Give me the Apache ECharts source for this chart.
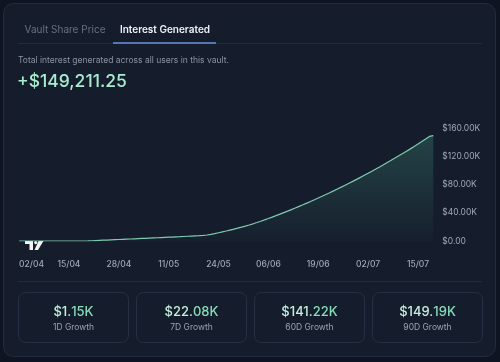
<!DOCTYPE html>
<html>
<head>
<meta charset="utf-8">
<script src="https://cdn.jsdelivr.net/npm/echarts@6/dist/echarts.min.js"></script>
<style>
html,body{margin:0;padding:0;background:#0e1421;}
#c{width:500px;height:362px;}
</style>
</head>
<body>
<div id="c"></div>
<script>
// Daily categories (dd/mm)
const dates = [
"02/04","03/04","04/04","05/04","06/04","07/04","08/04","09/04","10/04","11/04","12/04","13/04","14/04","15/04","16/04","17/04","18/04","19/04","20/04","21/04","22/04","23/04","24/04","25/04","26/04","27/04","28/04","29/04","30/04",
"01/05","02/05","03/05","04/05","05/05","06/05","07/05","08/05","09/05","10/05","11/05","12/05","13/05","14/05","15/05","16/05","17/05","18/05","19/05","20/05","21/05","22/05","23/05","24/05","25/05","26/05","27/05","28/05","29/05","30/05","31/05",
"01/06","02/06","03/06","04/06","05/06","06/06","07/06","08/06","09/06","10/06","11/06","12/06","13/06","14/06","15/06","16/06","17/06","18/06","19/06","20/06","21/06","22/06","23/06","24/06","25/06","26/06","27/06","28/06","29/06","30/06",
"01/07","02/07","03/07","04/07","05/07","06/07","07/07","08/07","09/07","10/07","11/07","12/07","13/07","14/07","15/07","16/07","17/07","18/07","19/07"
];
// Cumulative interest generated (USD)
const interest = [
0,0,0,0,0,0,0,0,0,0,0,0,0,0,0,0,10,20,120,350,600,850,1100,1350,1600,1850,2100,2350,2600,
2850,3100,3350,3600,3850,4100,4350,4600,4850,5100,5350,5600,5850,6100,6400,6700,7000,7300,7600,7990,8500,9400,10500,11700,12900,14150,15450,16750,18150,19600,21100,
22650,24350,26150,28000,29900,31850,33850,35900,38000,40150,42300,44490,46710,48970,51270,53600,55970,58380,60820,63300,65820,68370,70960,73590,76250,78950,81680,84460,87270,90110,
92990,95920,98870,101870,104900,107960,111060,114200,117380,120590,123840,127130,130450,133840,137290,140820,144410,148060,149211.25
];
const xTickLabels = ["02/04","15/04","28/04","11/05","24/05","06/06","19/06","02/07","15/07"];
const yTicks = [0, 40000, 80000, 120000, 160000];
const tabs = ["Vault Share Price", "Interest Generated"];
const subtitle = "Total interest generated across all users in this vault.";
const totalText = "+$149,211.25";
const cardValues = [["$1.", "15K"], ["$22.", "08K"], ["$141.", "22K"], ["$149.", "19K"]];
const cardLabels = ["1D Growth", "7D Growth", "60D Growth", "90D Growth"];

const FONT = "Inter, 'Noto Sans', sans-serif";
const chart = echarts.init(document.getElementById('c'), null, {renderer: 'canvas'});

const graphics = [];
// outer panel
graphics.push({type:'rect', z:-10, shape:{x:3.5,y:3.5,width:492,height:353,r:10}, style:{fill:'#151c2c', stroke:'#232c3e', lineWidth:1}});
// tabs
graphics.push({type:'line', shape:{x1:18,y1:43.5,x2:482,y2:43.5}, style:{stroke:'#222b3d', lineWidth:1}});
graphics.push({type:'text', style:{text:tabs[0], x:65, y:30, fill:'#677184', font:'10px '+FONT, textAlign:'center', textVerticalAlign:'middle'}});
graphics.push({type:'text', style:{text:tabs[1], x:165, y:30, fill:'#eef1f6', font:'600 10px '+FONT, textAlign:'center', textVerticalAlign:'middle'}});
graphics.push({type:'rect', shape:{x:113,y:42,width:103,height:2}, style:{fill:'#5577b0'}});
graphics.push({type:'text', style:{text:subtitle, x:18, y:60, fill:'#8a93a4', font:'8.5px '+FONT, textAlign:'left', textVerticalAlign:'middle'}});
graphics.push({type:'text', style:{text:totalText, x:17, y:82, fill:'#a9eccf', font:'500 17.5px '+FONT, textAlign:'left', textVerticalAlign:'middle'}});
// chart container bottom line
graphics.push({type:'line', shape:{x1:18,y1:281.5,x2:482,y2:281.5}, style:{stroke:'#222b3d', lineWidth:1}});
// TradingView-like logo
graphics.push({type:'group', z:100, children:[
  {type:'rect', shape:{x:25,y:241,width:8,height:3}, style:{fill:'#f2f2f2'}},
  {type:'rect', shape:{x:29.5,y:241,width:3.5,height:9}, style:{fill:'#f2f2f2'}},
  {type:'circle', shape:{cx:35.7,cy:242.6,r:1.6}, style:{fill:'#f2f2f2'}},
  {type:'polygon', shape:{points:[[38.5,241],[43.5,241],[38,250],[34.5,250]]}, style:{fill:'#f2f2f2'}}
]});
// cards
for (let i = 0; i < 4; i++) {
  const x = 18.5 + i * 118;
  graphics.push({type:'rect', shape:{x:x,y:292.5,width:110,height:50,r:7}, style:{fill:'#151c2c', stroke:'#262f43', lineWidth:1}});
  graphics.push({type:'text', style:{
    text:'{a|'+cardValues[i][0]+'}{b|'+cardValues[i][1]+'}', x:x+55, y:312, textAlign:'center', textVerticalAlign:'middle',
    rich:{a:{fill:'#c4efdd', font:'500 13px '+FONT}, b:{fill:'#86dcb8', font:'500 13px '+FONT}}
  }});
  graphics.push({type:'text', style:{text:cardLabels[i], x:x+55, y:327.5, fill:'#9aa3b3', font:'8.5px '+FONT, textAlign:'center', textVerticalAlign:'middle'}});
}

chart.setOption({
  backgroundColor:'#0e1421',
  animation:false,
  graphic: graphics,
  grid:{left:19.1, right:66.7, top:128, bottom:121, containLabel:false},
  xAxis:{
    type:'category', data:dates, boundaryGap:false,
    axisLine:{show:false}, axisTick:{show:false}, splitLine:{show:false},
    axisLabel:{
      interval:function(idx, val){ return xTickLabels.indexOf(val) >= 0; },
      color:'#a0a8b6', fontSize:8.5, fontFamily:FONT, fontWeight:500, margin:19,
      alignMinLabel:'left', showMinLabel:true
    }
  },
  yAxis:{
    type:'value', position:'right', min:yTicks[0], max:yTicks[yTicks.length-1], interval:40000,
    axisLine:{show:false}, axisTick:{show:false}, splitLine:{show:false},
    axisLabel:{
      color:'#a0a8b6', fontSize:8.5, fontFamily:FONT, margin:9,
      formatter:function(v){ return v === 0 ? '$0.00' : '$' + (v/1000).toFixed(2) + 'K'; }
    }
  },
  series:[{
    type:'line', data:interest, showSymbol:false, smooth:false,
    lineStyle:{color:'#7fcbb0', width:1.2},
    areaStyle:{color:new echarts.graphic.LinearGradient(0,0,0,1,[
      {offset:0, color:'rgba(72,160,132,0.42)'},
      {offset:1, color:'rgba(72,160,132,0.03)'}
    ])}
  }]
});
</script>
</body>
</html>
